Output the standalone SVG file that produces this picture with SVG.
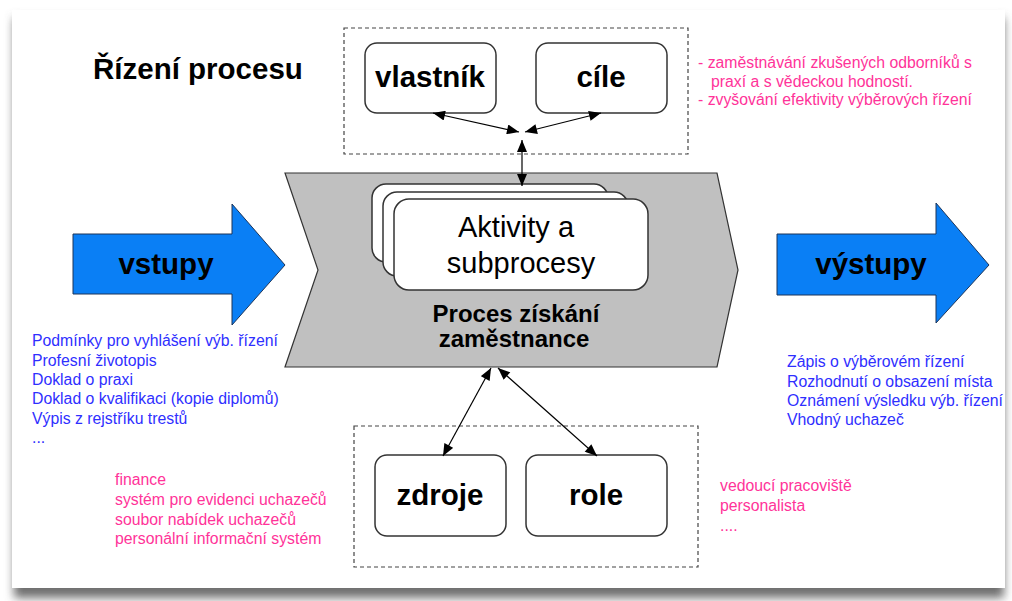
<svg xmlns="http://www.w3.org/2000/svg" width="1012" height="601" viewBox="0 0 1012 601">
  <defs>
    <filter id="cardShadow" x="-5%" y="-5%" width="110%" height="115%">
      <feGaussianBlur stdDeviation="5"/>
    </filter>
    <marker id="head" viewBox="0 0 12 10" refX="12" refY="5" markerWidth="13" markerHeight="10" markerUnits="userSpaceOnUse" orient="auto-start-reverse">
      <path d="M0,0 L12,5 L0,10 Z" fill="#000"/>
    </marker>
    <style>
      .box { fill: #fff; stroke: #333; stroke-width: 1.5; }
      .dash { fill: none; stroke: #444; stroke-width: 1.2; stroke-dasharray: 4 3; }
      .big { font-family: "Liberation Sans", Arial, sans-serif; font-weight: bold; font-size: 29.5px; fill: #000; text-anchor: middle; }
      .mid { font-family: "Liberation Sans", Arial, sans-serif; font-size: 29px; fill: #000; text-anchor: middle; }
      .proc { font-family: "Liberation Sans", Arial, sans-serif; font-weight: bold; font-size: 24px; fill: #000; text-anchor: middle; }
      .note { font-family: "Liberation Sans", Arial, sans-serif; font-size: 15.8px; }
      .blue { fill: #2f2fff; }
      .pink { fill: #ff3399; }
      .arrow { fill: #0a7ff5; stroke: #1d3559; stroke-width: 1; }
      .link { stroke: #000; stroke-width: 1.2; fill: none; marker-start: url(#head); marker-end: url(#head); }
    </style>
  </defs>

  <!-- page card with soft shadow -->
  <rect x="0" y="0" width="1012" height="601" fill="#fff"/>
  <rect x="14" y="18" width="990" height="580" fill="#707070" filter="url(#cardShadow)"/>
  <rect x="12" y="10" width="993" height="578" fill="#fff"/>

  <!-- process chevron -->
  <g id="process">
    <polygon points="285,173 717,173 738,270 717,367 285,367 318,270" fill="#c0c0c0" stroke="#333" stroke-width="1.2"/>
    <text class="proc" x="516" y="322">Proces získání</text>
    <text class="proc" x="514" y="347">zaměstnance</text>
  </g>

  <!-- stacked activity cards -->
  <g id="activities">
    <rect class="box" x="372" y="184" width="236" height="78" rx="14"/>
    <rect class="box" x="383" y="192" width="245" height="84" rx="14"/>
    <rect class="box" x="394" y="199" width="254" height="91" rx="15"/>
    <text class="mid" x="516" y="237">Aktivity a</text>
    <text class="mid" x="521" y="273">subprocesy</text>
  </g>

  <!-- input / output arrows -->
  <g id="inputs">
    <polygon class="arrow" points="73,234 232,234 232,204 285,265 232,325 232,294 73,294"/>
    <text class="big" x="166" y="274">vstupy</text>
  </g>
  <g id="outputs">
    <polygon class="arrow" points="777,234 936,234 936,203 989,265 936,323 936,295 777,295"/>
    <text class="big" x="871" y="274">výstupy</text>
  </g>

  <!-- process control group -->
  <g id="control-title">
    <text class="big" x="93" y="79" style="text-anchor:start">Řízení procesu</text>
  </g>
  <g id="control-group">
    <rect class="dash" x="344" y="28" width="344" height="126"/>
  </g>
  <g id="owner">
    <rect class="box" x="365" y="43" width="131" height="70" rx="12"/>
    <text class="big" x="430" y="87">vlastník</text>
  </g>
  <g id="goals">
    <rect class="box" x="536" y="43" width="131" height="70" rx="12"/>
    <text class="big" x="601" y="87">cíle</text>
  </g>

  <!-- resources group -->
  <g id="resource-group">
    <rect class="dash" x="354" y="426" width="344" height="141"/>
  </g>
  <g id="resources">
    <rect class="box" x="375" y="455" width="131" height="81" rx="12"/>
    <text class="big" x="440" y="505">zdroje</text>
  </g>
  <g id="roles">
    <rect class="box" x="526" y="455" width="141" height="81" rx="12"/>
    <text class="big" x="596" y="505">role</text>
  </g>

  <!-- connectors -->
  <g id="connectors">
    <line class="link" x1="519" y1="132" x2="433" y2="113"/>
    <line class="link" x1="525" y1="132" x2="601" y2="113"/>
    <line class="link" x1="522" y1="140" x2="522" y2="186"/>
    <line class="link" x1="491" y1="368" x2="443" y2="456"/>
    <line class="link" x1="498" y1="368" x2="597" y2="456"/>
  </g>

  <!-- annotations -->
  <g id="goal-notes" class="note pink">
    <text x="698" y="68">- zaměstnávání zkušených odborníků s</text>
    <text x="711" y="87">praxí a s vědeckou hodností.</text>
    <text x="698" y="105">- zvyšování efektivity výběrových řízení</text>
  </g>
  <g id="input-notes" class="note blue">
    <text x="32" y="346">Podmínky pro vyhlášení výb. řízení</text>
    <text x="32" y="366">Profesní životopis</text>
    <text x="32" y="385">Doklad o praxi</text>
    <text x="32" y="404">Doklad o kvalifikaci (kopie diplomů)</text>
    <text x="32" y="424">Výpis z rejstříku trestů</text>
    <text x="32" y="443">...</text>
  </g>
  <g id="output-notes" class="note blue">
    <text x="787" y="367">Zápis o výběrovém řízení</text>
    <text x="787" y="387">Rozhodnutí o obsazení místa</text>
    <text x="787" y="406">Oznámení výsledku výb. řízení</text>
    <text x="787" y="425">Vhodný uchazeč</text>
  </g>
  <g id="resource-notes" class="note pink">
    <text x="115" y="485">finance</text>
    <text x="115" y="505">systém pro evidenci uchazečů</text>
    <text x="115" y="525">soubor nabídek uchazečů</text>
    <text x="115" y="544">personální informační systém</text>
  </g>
  <g id="role-notes" class="note pink">
    <text x="720" y="491">vedoucí pracoviště</text>
    <text x="720" y="511">personalista</text>
    <text x="720" y="531">....</text>
  </g>
</svg>
